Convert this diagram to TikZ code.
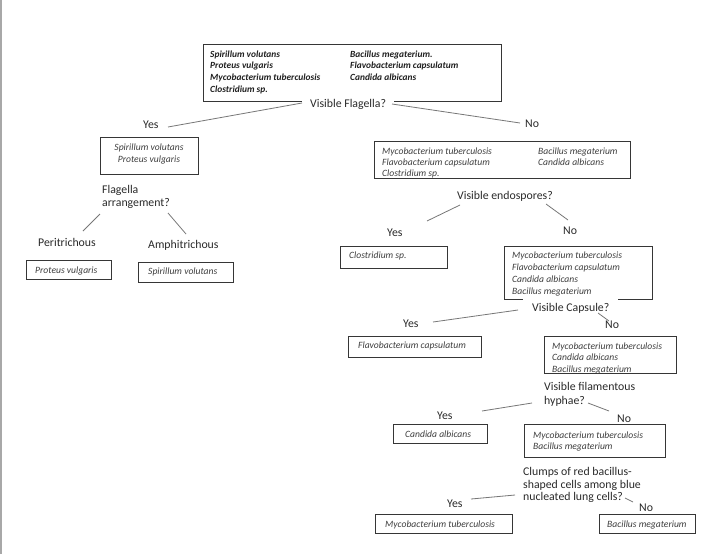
\documentclass[tikz,border=0pt]{standalone}
\usepackage{fontspec}
\setmainfont{Carlito}
\definecolor{boxcol}{HTML}{363636}
\definecolor{txtcol}{HTML}{3E3E3E}
\definecolor{boldcol}{HTML}{202020}
\definecolor{qcol}{HTML}{2A2A2A}
\definecolor{conncol}{HTML}{777777}
\definecolor{edgecol}{HTML}{A8A8A8}
\begin{document}
\begin{tikzpicture}[x=1pt,y=-1pt,
  box/.style={draw=boxcol, line width=1pt, inner sep=0pt, anchor=north west},
  bt/.style={font=\fontsize{9.6}{11.5}\selectfont\itshape, text=txtcol, inner sep=0pt, align=left, anchor=north west},
  bold/.style={font=\fontsize{9.4}{11.7}\selectfont\bfseries\itshape, text=boldcol, inner sep=0pt, align=left, anchor=north west},
  q/.style={font=\fontsize{11.8}{13}\selectfont, text=qcol, inner sep=0pt, anchor=base west},
  qm/.style={font=\fontsize{11.8}{13}\selectfont, text=qcol, inner sep=0pt, align=left, anchor=north west},
  conn/.style={draw=conncol, line width=0.8pt}]
\useasboundingbox (0,0) rectangle (711,554);
\fill[white] (0,0) rectangle (711,554);
\draw[edgecol, line width=1.5pt] (1,0) -- (1,554);

% top box
\node[box, minimum width=298pt, minimum height=57pt] (top) at (203,44) {};
\node[bold] (topa) at (210,50.5) {Spirillum volutans\\Proteus vulgaris\\Mycobacterium tuberculosis\\Clostridium sp.};
\node[bold] (topb) at (350,50.5) {Bacillus megaterium.\\Flavobacterium capsulatum\\Candida albicans};
\node[q, fill=white, inner xsep=8pt, inner ysep=3pt] (q1) at (302,107.5) {Visible Flagella?\hspace{13pt}};

% flagella yes branch
\node[q] (y1) at (143,128.5) {Yes};
\node[q] (n1) at (525,127.5) {No};
\coordinate (c1a) at (302,103); \coordinate (c1b) at (168,127);
\coordinate (c2a) at (392,104); \coordinate (c2b) at (520,123);
\draw[conn] (c1a) -- (c1b);
\draw[conn] (c2a) -- (c2b);

\node[box, minimum width=98pt, minimum height=37pt] (b1) at (100,137) {};
\node[bt, align=center, anchor=north] (b1t) at (149,143.3) {Spirillum volutans\\[0.5pt]Proteus vulgaris};
\node[qm] (qf) at (102,185.3) {Flagella\\arrangement?};
\coordinate (c3a) at (100,214); \coordinate (c3b) at (83,231);
\coordinate (c4a) at (168,213); \coordinate (c4b) at (186,234);
\draw[conn] (c3a) -- (c3b);
\draw[conn] (c4a) -- (c4b);
\node[q] (peri) at (38,246.5) {Peritrichous};
\node[q] (amph) at (148,248.5) {Amphitrichous};
\node[box, minimum width=85pt, minimum height=19pt] (b3) at (26,260) {};
\node[bt] (b3t) at (35,266.3) {Proteus vulgaris};
\node[box, minimum width=95pt, minimum height=20pt] (b4) at (138,262) {};
\node[bt] (b4t) at (148,267.3) {Spirillum volutans};

% flagella no branch
\node[box, minimum width=256pt, minimum height=37pt] (b2) at (374,141) {};
\node[bt, font=\fontsize{9.6}{11}\selectfont\itshape] (b2a) at (382,147.3) {Mycobacterium tuberculosis\\Flavobacterium capsulatum\\Clostridium sp.};
\node[bt, font=\fontsize{9.6}{11}\selectfont\itshape] (b2b) at (538,147.3) {Bacillus megaterium\\Candida albicans};
\node[q] (q2) at (457,199.5) {Visible endospores?};
\coordinate (c5a) at (460,205); \coordinate (c5b) at (427,221);
\coordinate (c6a) at (546,204); \coordinate (c6b) at (568,220);
\draw[conn] (c5a) -- (c5b);
\draw[conn] (c6a) -- (c6b);
\node[q] (y2) at (387,236.5) {Yes};
\node[q] (n2) at (563,234.5) {No};
\node[box, minimum width=107pt, minimum height=22pt] (b5) at (340,246) {};
\node[bt] (b5t) at (349,251.3) {Clostridium sp.};
\node[box, minimum width=148pt, minimum height=53pt] (b6) at (504,246) {};
\node[bt, font=\fontsize{9.6}{12}\selectfont\itshape] (b6t) at (512,251.3) {Mycobacterium tuberculosis\\Flavobacterium capsulatum\\Candida albicans\\Bacillus megaterium};

% capsule
\node[q, fill=white, inner xsep=9pt, inner ysep=6pt] (q3) at (523,311.5) {Visible Capsule?\hspace{2pt}};
\coordinate (c7a) at (518,310); \coordinate (c7b) at (433,322);
\coordinate (c8a) at (598,313); \coordinate (c8b) at (609,321);
\draw[conn] (c7a) -- (c7b);
\draw[conn] (c8a) -- (c8b);
\node[q] (y3) at (403,327.5) {Yes};
\node[q] (n3) at (605,328.5) {No};
\node[box, minimum width=133pt, minimum height=21pt] (b7) at (348,336) {};
\node[bt] (b7t) at (358,341.3) {Flavobacterium capsulatum};
\node[box, minimum width=132pt, minimum height=37pt] (b8) at (544,336) {};
\node[bt] (b8t) at (552,342.3) {Mycobacterium tuberculosis\\Candida albicans\\Bacillus megaterium};

% hyphae
\node[qm, font=\fontsize{11.8}{14}\selectfont] (q4) at (544,382.3) {Visible filamentous\\hyphae?};
\coordinate (c9a) at (532,403); \coordinate (c9b) at (482,411);
\coordinate (c10a) at (588,403); \coordinate (c10b) at (609,411);
\draw[conn] (c9a) -- (c9b);
\draw[conn] (c10a) -- (c10b);
\node[q] (y4) at (437,419.5) {Yes};
\node[q] (n4) at (617,422.5) {No};
\node[box, minimum width=94pt, minimum height=19pt] (b9) at (393,424) {};
\node[bt] (b9t) at (405,430.3) {Candida albicans};
\node[box, minimum width=141pt, minimum height=33pt] (b10) at (524,424) {};
\node[bt, font=\fontsize{9.6}{11}\selectfont\itshape] (b10t) at (533,431.3) {Mycobacterium tuberculosis\\Bacillus megaterium};

% clumps
\node[qm, font=\fontsize{11.8}{12.5}\selectfont] (q5) at (523,467.3) {Clumps of red bacillus-\\shaped cells among blue\\nucleated lung cells?};
\coordinate (c11a) at (515,495); \coordinate (c11b) at (471,499);
\coordinate (c12a) at (625,498); \coordinate (c12b) at (633,502);
\draw[conn] (c11a) -- (c11b);
\draw[conn] (c12a) -- (c12b);
\node[q] (y5) at (447,507.5) {Yes};
\node[q] (n5) at (639,511.5) {No};
\node[box, minimum width=137pt, minimum height=19pt] (b11) at (375,514) {};
\node[bt] (b11t) at (385,520.3) {Mycobacterium tuberculosis};
\node[box, minimum width=96pt, minimum height=19pt] (b12) at (599,514) {};
\node[bt] (b12t) at (607,520.3) {Bacillus megaterium};
\end{tikzpicture}
\end{document}
